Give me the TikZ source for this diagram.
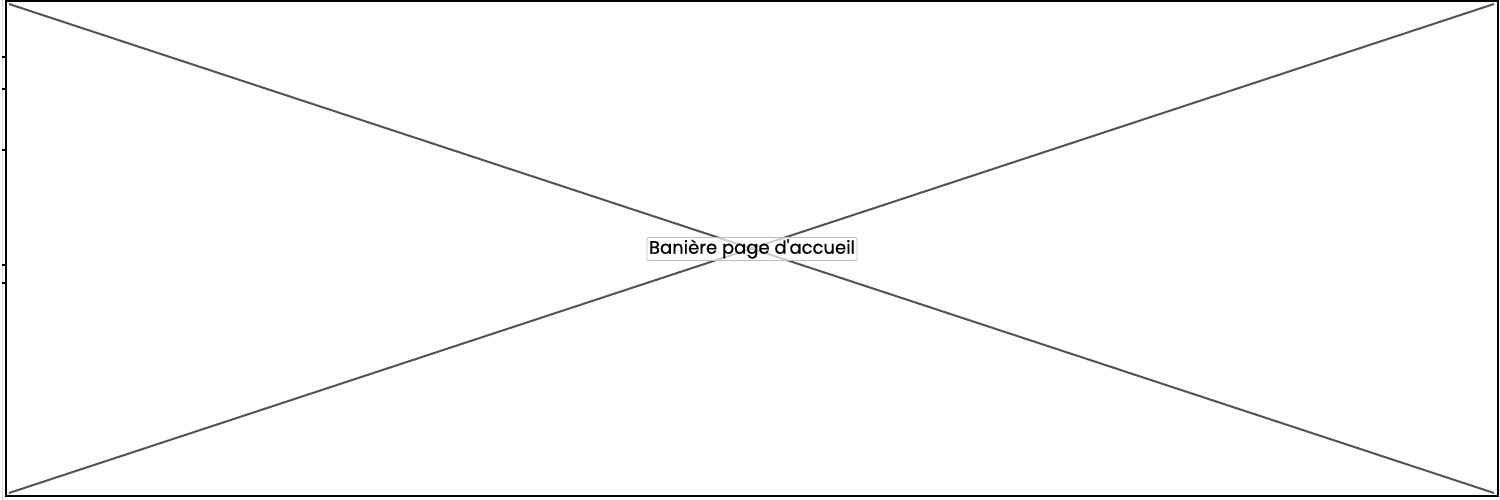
\documentclass[tikz,border=0pt]{standalone}
\usepackage{fontspec}
\setmainfont{Poppins}[FakeBold=0.6]
\begin{document}
\begin{tikzpicture}[x=1pt,y=-1pt,
  frame/.style={draw=black,line width=2pt},
  cross/.style={draw=black!67,line width=2pt},
  lbl/.style={draw=black!25,line width=0.8pt,rounded corners=2pt,fill=white,fill opacity=0.7,text opacity=1,inner xsep=2pt,inner ysep=2pt,font=\fontsize{18}{20}\selectfont},
  tick/.style={draw=black,line width=2pt}]
\useasboundingbox (0,0) rectangle (1500,500);
\fill[white] (0,0) rectangle (1500,500);
\draw[black!15,line width=1pt] (2.5,0) -- (2.5,500);
\coordinate (tl) at (6,1.5);
\coordinate (br) at (1497.5,495.5);
\draw[frame] (tl) rectangle (br);
\coordinate (a) at (9,4);
\coordinate (b) at (1494,493);
\coordinate (c) at (9,493);
\coordinate (d) at (1494,4);
\draw[cross] (a) -- (b);
\draw[cross] (c) -- (d);
\foreach \yy in {57,89,150,265,283} \draw[tick] (2,\yy) -- (5,\yy);
\node[lbl] (label) at (752,249) {Banière page d\textquotesingle accueil};
\end{tikzpicture}
\end{document}
